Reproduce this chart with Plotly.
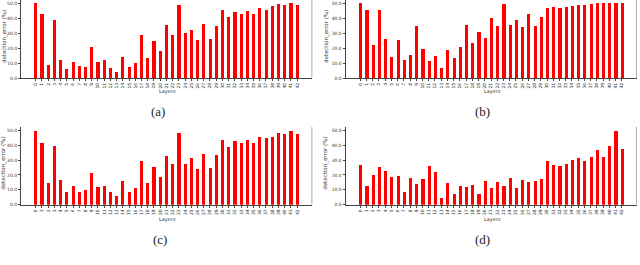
import plotly.graph_objects as go

W, H = 640, 265

layers = list(range(43))
layer_labels = [str(i) for i in layers]

err_a = [50, 42.5, 9, 39, 12, 6, 11, 8, 7.5, 21, 11, 12, 7, 4, 14, 7.5, 10, 29, 13.5, 24.5,
         18, 35.5, 29, 48.5, 30, 32, 25.5, 36, 26, 35, 45.5, 41, 44, 43, 45, 43, 46.5, 45.5,
         48, 49.5, 49, 50, 48.5]
err_b = [50, 45.5, 22, 45.5, 26, 14, 25.5, 12, 15.5, 34.5, 19.5, 11.5, 14.5, 6.5, 19, 13.5,
         20.5, 35.5, 23.5, 31, 26.5, 40, 35, 49.5, 35.5, 39, 34, 42.5, 34.5, 40.5, 46.5, 47.5,
         46.5, 47.5, 48, 48.5, 49, 49.5, 50, 50, 50, 50, 50]
err_c = [50, 42, 14.5, 39.5, 17, 8.5, 13, 9, 10, 21.5, 12, 13, 9, 6, 16, 9, 11.5, 29.5, 14.5,
         25.5, 18.5, 33, 27.5, 48.5, 27.5, 31.5, 24.5, 34, 25, 33.5, 43.5, 39, 43, 41.5, 43.5,
         42, 45.5, 45, 46, 48.5, 48, 50, 47.5]
err_d = [27, 13, 20, 25.5, 22.5, 18.5, 19.5, 9, 18, 14, 17.5, 26, 22, 4.5, 15, 7.5, 13, 12,
         13.5, 7, 16, 11.5, 15.5, 12.5, 18, 11.5, 16.5, 15.5, 16, 17.5, 29.5, 27, 26.5, 27.5,
         30, 31.5, 29.5, 32, 37, 32.5, 39.5, 50, 37.5]

panel_labels = ["(a)", "(b)", "(c)", "(d)"]
y_ticks = [0, 10, 20, 30, 40, 50]

def px(x):
    return x / W

def py(y):
    return (H - y) / H

# panel geometry in pixels: (x_left, x_right, y_top, y_bottom, yrange_top)
panels = [
    (20.9, 311.9, 0.0, 79.0, 52.17),
    (345.5, 636.5, 0.0, 79.0, 52.17),
    (20.9, 311.9, 128.25, 207.0, 52.5),
    (345.5, 636.5, 128.25, 207.0, 52.5),
]
series = [err_a, err_b, err_c, err_d]
label_pos = [(158, 113), (482, 113), (160, 242), (482, 242)]
layers_y = [93, 93, 222, 222]
ytitle_x = [4.0, 326.0, 4.0, 326.0]

fig = go.Figure()
annotations = []
shapes = []
tick_font = dict(family="DejaVu Sans", size=4.5, color="#333333")

for i, (vals, geo) in enumerate(zip(series, panels)):
    xl, xr, yt, yb, ytop = geo
    n = "" if i == 0 else str(i + 1)
    fig.add_trace(go.Bar(
        x=layers, y=vals, width=0.5, marker=dict(color="#ff0000", line=dict(width=0)),
        xaxis="x" + n, yaxis="y" + n, showlegend=False,
    ))
    fig.update_layout(**{
        "xaxis" + n: dict(
            domain=[px(xl), px(xr)], range=[-2.375, 44.375], anchor="y" + n,
            tickmode="array", tickvals=layers, ticktext=layer_labels, tickangle=-90,
            tickfont=tick_font, ticks="outside", ticklen=2, tickwidth=0.6, tickcolor="#444444",
            showline=True, linecolor="#444444", linewidth=0.8, showgrid=False, zeroline=False,
            fixedrange=True,
        ),
        "yaxis" + n: dict(
            domain=[py(yb), py(yt)], range=[0, ytop], anchor="x" + n,
            tickmode="array", tickvals=y_ticks, ticktext=[f"{v:.1f}" for v in y_ticks],
            tickfont=tick_font, ticks="outside", ticklen=2, tickwidth=0.6, tickcolor="#444444",
            showline=True, linecolor="#444444", linewidth=0.8, showgrid=False, zeroline=False,
            fixedrange=True,
        ),
    })
    # right spine
    shapes.append(dict(type="line", xref=f"x{n} domain", yref=f"y{n} domain",
                       x0=1, x1=1, y0=0, y1=1, line=dict(color="#999999", width=0.8)))
    # x title
    annotations.append(dict(text="Layers", xref="paper", yref="paper",
                            x=px((xl + xr) / 2 + 1), y=py(layers_y[i]), showarrow=False,
                            xanchor="center", yanchor="middle",
                            font=dict(family="DejaVu Sans", size=5, color="#333333")))
    # y title
    annotations.append(dict(text="detection_error (%)", xref="paper", yref="paper",
                            x=px(ytitle_x[i]), y=py((yt + yb) / 2 - 2), textangle=-90,
                            showarrow=False, xanchor="center", yanchor="middle",
                            font=dict(family="DejaVu Sans", size=5.5, color="#333333")))
    # panel label
    lx, ly = label_pos[i]
    annotations.append(dict(text=panel_labels[i], xref="paper", yref="paper",
                            x=px(lx), y=py(ly), showarrow=False,
                            xanchor="center", yanchor="middle",
                            font=dict(family="Liberation Serif", size=13, color="#222222")))

fig.update_layout(
    width=W, height=H, margin=dict(l=0, r=0, t=0, b=0),
    paper_bgcolor="white", plot_bgcolor="white",
    annotations=annotations, shapes=shapes, bargap=0,
)

fig.write_html(
    "out.html",
    config={"displayModeBar": False},
    post_script="document.body.style.margin='0';document.body.style.overflow='hidden';",
)
